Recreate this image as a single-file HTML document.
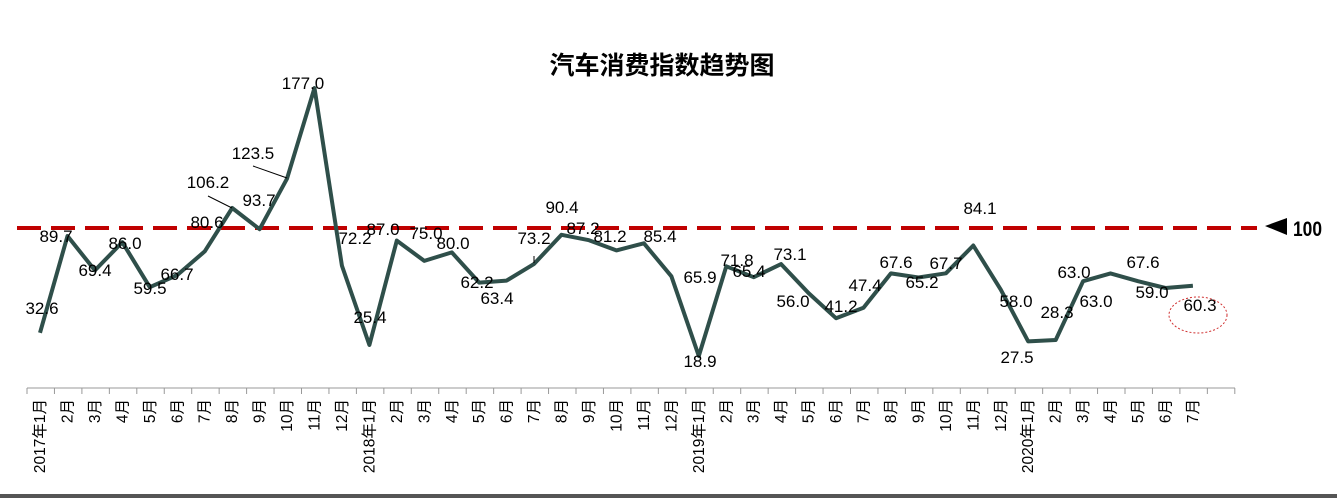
<!DOCTYPE html>
<html><head><meta charset="utf-8"><style>
html,body{margin:0;padding:0;background:#fff;}
svg{display:block;}
text{font-family:"Liberation Sans","Noto Sans CJK SC",sans-serif;}
</style></head><body>
<svg width="1337" height="498" viewBox="0 0 1337 498" xmlns="http://www.w3.org/2000/svg">
<text x="662" y="74" text-anchor="middle" font-size="25" font-weight="bold" font-family="'Liberation Sans','Noto Sans CJK SC',sans-serif">汽车消费指数趋势图</text>
<line x1="17" y1="228" x2="1257" y2="228" stroke="#c00000" stroke-width="4" stroke-dasharray="24,10"/>
<polygon points="1265,226 1287,218 1287,235" fill="#000"/>
<text x="1293" y="236" font-size="21" font-weight="bold" textLength="29" lengthAdjust="spacingAndGlyphs">100</text>
<line x1="27" y1="388" x2="1235" y2="388" stroke="#999" stroke-width="1"/>
<g id="ticks" stroke="#999" stroke-width="1"></g>
<g id="xl" font-size="15.5" fill="#000"></g>
<polyline id="ln" fill="none" stroke="#2f4f4a" stroke-width="4" stroke-linejoin="round"/>
<line x1="208" y1="196" x2="232" y2="208" stroke="#000" stroke-width="1"/>
<line x1="253" y1="166" x2="287" y2="178" stroke="#000" stroke-width="1"/>
<line x1="534" y1="256" x2="534" y2="263" stroke="#000" stroke-width="1"/>
<g id="lb" font-size="17" fill="#000" text-anchor="middle"></g>
<ellipse cx="1198" cy="315" rx="29" ry="18" fill="none" stroke="#d03030" stroke-width="1" stroke-dasharray="2,2"/>
<rect x="0" y="494" width="1337" height="4" fill="#555"/>
</svg>
<script>
var d=[32.6,89.7,69.4,86.0,59.5,66.7,80.6,106.2,93.7,123.5,177.0,72.2,25.4,87.0,75.0,80.0,62.2,63.4,73.2,90.4,87.2,81.2,85.4,65.9,18.9,71.8,65.4,73.1,56.0,41.2,47.4,67.6,65.2,67.7,84.1,58.0,27.5,28.3,63.0,67.6,63.0,59.0,60.3];
var sx=27.45,x0=40;
var pts=d.map(function(v,i){return (x0+i*sx).toFixed(1)+','+(88+(177-v)*1.695).toFixed(1)}).join(' ');
document.getElementById('ln').setAttribute('points',pts);
var ns='http://www.w3.org/2000/svg';
var tk=document.getElementById('ticks');
for(var i=0;i<=44;i++){var l=document.createElementNS(ns,'line');var x=27+i*sx;l.setAttribute('x1',x);l.setAttribute('x2',x);l.setAttribute('y1',388);l.setAttribute('y2',394);tk.appendChild(l);}
var xl=document.getElementById('xl');
for(var i=0;i<43;i++){var m=i%12+1,y=2017+Math.floor(i/12);var s=(m==1?y+'年':'')+m+'月';
var t=document.createElementNS(ns,'text');var x=x0+i*sx+5;t.setAttribute('transform','translate('+x+',399) rotate(-90)');t.setAttribute('text-anchor','end');t.textContent=s;xl.appendChild(t);}
var L=[[42,308,'32.6'],[56,236,'89.7'],[95,270,'69.4'],[125,243,'86.0'],[150,288,'59.5'],[177,274,'66.7'],[207,222,'80.6'],[208,182,'106.2'],[259,200,'93.7'],[253,153,'123.5'],[303,83,'177.0'],[355,238,'72.2'],[370,317,'25.4'],[383,229,'87.0'],[426,233,'75.0'],[453,243,'80.0'],[477,282,'62.2'],[497,298,'63.4'],[534,238,'73.2'],[562,207,'90.4'],[583,228,'87.2'],[610,236,'81.2'],[660,236,'85.4'],[700,277,'65.9'],[700,361,'18.9'],[737,260,'71.8'],[749,271,'65.4'],[790,254,'73.1'],[793,301,'56.0'],[841,306,'41.2'],[865,285,'47.4'],[896,262,'67.6'],[922,282,'65.2'],[946,263,'67.7'],[980,208,'84.1'],[1016,301,'58.0'],[1017,357,'27.5'],[1057,312,'28.3'],[1074,272,'63.0'],[1143,262,'67.6'],[1096,301,'63.0'],[1152,292,'59.0'],[1200,305,'60.3']];
var lb=document.getElementById('lb');
L.forEach(function(a){var t=document.createElementNS(ns,'text');t.setAttribute('x',a[0]);t.setAttribute('y',a[1]+6);t.textContent=a[2];lb.appendChild(t);});
</script>
</body></html>
